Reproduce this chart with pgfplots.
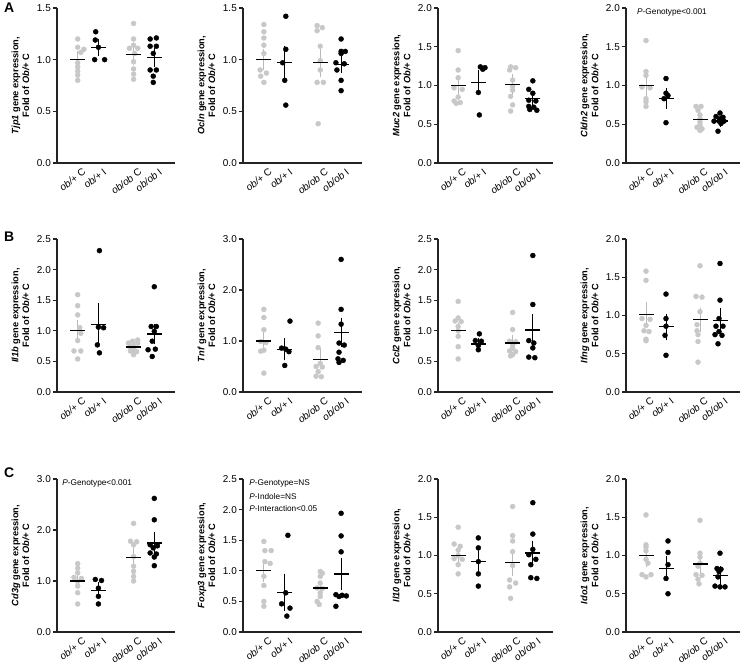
\documentclass[border=0pt]{standalone}
\usepackage{pgfplots}
\pgfplotsset{compat=1.18}
\usepackage{fontspec}
\setmainfont{Liberation Sans}
\definecolor{dotgray}{RGB}{200,200,200}
\definecolor{errgray}{RGB}{185,185,185}
\definecolor{axcol}{RGB}{35,35,35}
\pgfplotsset{
 panel/.style={
  scale only axis,
  axis x line*=bottom, axis y line*=left,
  axis line style={-, line width=1.1bp, draw=axcol},
  xmin=0, xmax=5.7, ymin=0,
  xtick={1,2,3.7,4.7},
  xticklabels={\textit{ob/+}~C, \textit{ob/+}~I, \textit{ob/ob}~C, \textit{ob/ob}~I},
  xtick style={draw=none},
  ytick style={line width=1.1bp, draw=axcol},
  tick align=outside, major tick length=4bp,
  ticklabel style={font=\fontsize{10}{11}\selectfont},
  xticklabel style={rotate=38, anchor=north east, inner sep=1bp, yshift=-2bp, xshift=4bp},
  yticklabel style={inner sep=2bp},
  ylabel style={align=center, font=\fontsize{9.3}{11}\selectfont\bfseries},
  ylabel shift=2bp,
  clip=false,
 },
 gdot/.style={only marks, mark=*, mark size=2.5bp, color=dotgray, mark options={solid}},
 bdot/.style={only marks, mark=*, mark size=2.5bp, color=black, mark options={solid}},
 gmean/.style={only marks, mark=-, mark size=7.5bp, mark options={draw=black, line width=1.4bp},
   error bars/.cd, y dir=both, y explicit, error bar style={draw=errgray, line width=0.9bp},
   error mark options={draw=errgray, mark size=3.5bp, line width=0.9bp}},
 bmean/.style={only marks, mark=-, mark size=7.5bp, mark options={draw=black, line width=1.4bp},
   error bars/.cd, y dir=both, y explicit, error bar style={draw=black, line width=0.9bp},
   error mark options={draw=black, mark size=3.5bp, line width=0.9bp}},
 r15/.style={ymax=1.5, ytick={0,0.5,1,1.5}, yticklabels={0.0,0.5,1.0,1.5}},
 r20/.style={ymax=2.0, ytick={0,0.5,1,1.5,2}, yticklabels={0.0,0.5,1.0,1.5,2.0}},
 r25/.style={ymax=2.5, ytick={0,0.5,1,1.5,2,2.5}, yticklabels={0.0,0.5,1.0,1.5,2.0,2.5}},
 r30/.style={ymax=3.0, ytick={0,1,2,3}, yticklabels={0.0,1.0,2.0,3.0}},
}
\newcommand{\ptext}{\fontsize{8.3}{9}\selectfont}
\begin{document}
\begin{tikzpicture}
\useasboundingbox (0,0) rectangle (745bp,668bp);

% ---------------- Row A ----------------
\begin{axis}[panel, r15, at={(57bp,505bp)}, anchor=south west, width=118bp, height=155bp,
  ylabel={\textit{Tjp1} gene expression,\\Fold of \textit{Ob/+} C}]
\addplot[gdot] coordinates {(1,1.20) (1,1.12) (1.3,1.10) (1.15,1.07) (1,0.97) (1,0.93) (1,0.89) (1,0.85) (1,0.80)};
\addplot[bdot] coordinates {(1.87,1.27) (1.85,1.19) (2.0,1.12) (1.82,1.00) (2.3,1.00)};
\addplot[gdot] coordinates {(3.7,1.35) (3.7,1.20) (3.7,1.14) (3.5,1.11) (3.9,1.11) (3.75,1.06) (3.7,0.98) (3.7,0.91) (3.7,0.86) (3.7,0.81)};
\addplot[bdot] coordinates {(4.5,1.20) (4.8,1.21) (4.5,1.13) (4.8,1.13) (4.65,1.06) (4.5,0.90) (4.8,0.90) (4.65,0.84) (4.65,0.78)};
\addplot[gmean] coordinates {(1,1.00) +- (0,0.05) (3.7,1.05) +- (0,0.065)};
\addplot[bmean] coordinates {(2,1.12) +- (0,0.05) (4.7,1.02) +- (0,0.055)};
\end{axis}

\begin{axis}[panel, r15, at={(243bp,505bp)}, anchor=south west, width=119bp, height=155bp,
  ylabel={\textit{Ocln} gene expression,\\Fold of \textit{Ob/+} C}]
\addplot[gdot] coordinates {(1,1.34) (1,1.27) (1,1.21) (1,1.14) (1,1.06) (0.82,0.90) (1.12,0.87) (0.85,0.84) (1,0.78)};
\addplot[bdot] coordinates {(2.05,1.42) (2.05,1.10) (1.9,0.97) (2.0,0.80) (2.05,0.56)};
\addplot[gdot] coordinates {(3.55,1.33) (3.8,1.31) (3.55,1.28) (3.7,1.13) (3.7,0.99) (3.7,0.90) (3.55,0.78) (3.85,0.78) (3.6,0.38)};
\addplot[bdot] coordinates {(4.7,1.20) (4.7,1.08) (4.9,1.08) (4.7,1.06) (4.45,0.97) (4.85,0.96) (4.5,0.90) (4.7,0.80) (4.7,0.70)};
\addplot[gmean] coordinates {(1,1.00) +- (0,0.07) (3.7,0.97) +- (0,0.10)};
\addplot[bmean] coordinates {(2,0.97) +- (0,0.13) (4.7,0.955) +- (0,0.05)};
\end{axis}

\begin{axis}[panel, r20, at={(438bp,505bp)}, anchor=south west, width=115bp, height=155bp,
  ylabel={\textit{Muc2} gene expression,\\Fold of \textit{Ob/+} C}]
\addplot[gdot] coordinates {(1,1.45) (1,1.20) (1,1.10) (0.8,0.97) (1.2,0.95) (1,0.85) (0.8,0.80) (1.1,0.78) (0.9,0.77)};
\addplot[bdot] coordinates {(2.1,1.24) (2.33,1.23) (2.22,1.21) (2.0,0.91) (2.05,0.62)};
\addplot[gdot] coordinates {(3.6,1.24) (3.85,1.23) (3.55,1.20) (3.7,1.07) (3.7,0.99) (3.7,0.94) (3.6,0.86) (3.7,0.75) (3.6,0.67)};
\addplot[bdot] coordinates {(4.7,1.06) (4.5,0.95) (4.7,0.90) (4.5,0.81) (4.85,0.80) (4.5,0.73) (4.75,0.72) (4.55,0.69) (4.9,0.68)};
\addplot[gmean] coordinates {(1,1.00) +- (0,0.09) (3.7,1.01) +- (0,0.09)};
\addplot[bmean] coordinates {(2,1.04) +- (0,0.12) (4.7,0.83) +- (0,0.055)};
\end{axis}

\begin{axis}[panel, r20, at={(626bp,505bp)}, anchor=south west, width=114bp, height=155bp,
  ylabel={\textit{Cldn2} gene expression,\\Fold of \textit{Ob/+} C}]
\addplot[gdot] coordinates {(1,1.58) (1,1.18) (1,1.13) (0.8,0.98) (1.2,0.97) (1,0.83) (1,0.79) (1,0.73)};
\addplot[bdot] coordinates {(2.0,1.09) (2.0,0.90) (2.1,0.87) (1.9,0.83) (2.0,0.52)};
\addplot[gdot] coordinates {(3.5,0.73) (3.75,0.73) (3.6,0.68) (3.7,0.62) (3.7,0.57) (3.7,0.53) (3.7,0.49) (3.55,0.46) (3.8,0.44) (3.7,0.42)};
\addplot[bdot] coordinates {(4.7,0.645) (4.5,0.60) (4.85,0.59) (4.7,0.57) (4.4,0.54) (4.65,0.54) (4.9,0.54) (4.75,0.51) (4.6,0.41)};
\addplot[gmean] coordinates {(1,1.00) +- (0,0.086) (3.7,0.563) +- (0,0.035)};
\addplot[bmean] coordinates {(2,0.83) +- (0,0.087) (4.7,0.54) +- (0,0.025)};
\node[anchor=west, inner sep=0, font=\ptext] at (axis cs:0.55,1.94) {\textit{P}-Genotype\textless0.001};
\end{axis}

% ---------------- Row B ----------------
\begin{axis}[panel, r25, at={(57bp,276bp)}, anchor=south west, width=118bp, height=153bp,
  ylabel={\textit{Il1b} gene expression,\\Fold of \textit{Ob/+} C}]
\addplot[gdot] coordinates {(1,1.59) (1,1.41) (1,1.26) (1.1,1.05) (1.15,0.96) (1,0.84) (0.82,0.67) (1.15,0.67) (1,0.54)};
\addplot[bdot] coordinates {(2.05,2.31) (2.0,1.06) (2.25,1.05) (1.95,0.77) (2.05,0.64)};
\addplot[gdot] coordinates {(3.9,0.85) (3.65,0.83) (3.45,0.80) (3.9,0.80) (3.7,0.76) (3.55,0.74) (3.7,0.72) (3.55,0.67) (3.85,0.66) (3.7,0.61)};
\addplot[bdot] coordinates {(4.7,1.72) (4.55,1.07) (4.8,1.07) (4.7,0.99) (4.6,0.83) (4.4,0.69) (4.75,0.70) (4.6,0.58)};
\addplot[gmean] coordinates {(1,1.00) +- (0,0.12) (3.7,0.734) +- (0,0.03)};
\addplot[bmean] coordinates {(2,1.10) +- (0,0.305) (4.7,0.946) +- (0,0.11)};
\end{axis}

\begin{axis}[panel, r30, at={(243bp,276bp)}, anchor=south west, width=119bp, height=153bp,
  ylabel={\textit{Tnf} gene expression,\\Fold of \textit{Ob/+} C}]
\addplot[gdot] coordinates {(1,1.62) (1,1.46) (1,1.22) (0.85,0.99) (1.1,0.97) (1,0.82) (0.85,0.80) (1,0.37)};
\addplot[bdot] coordinates {(2.25,1.39) (1.85,0.86) (2.05,0.84) (2.2,0.79) (2.0,0.52)};
\addplot[gdot] coordinates {(3.6,1.35) (3.6,1.10) (3.6,0.87) (3.7,0.56) (3.5,0.50) (3.8,0.49) (3.6,0.40) (3.5,0.31) (3.75,0.30)};
\addplot[bdot] coordinates {(4.7,2.60) (4.7,1.62) (4.7,1.33) (4.6,0.96) (4.85,0.92) (4.6,0.78) (4.55,0.65) (4.8,0.62) (4.6,0.58)};
\addplot[gmean] coordinates {(1,1.00) +- (0,0.15) (3.7,0.64) +- (0,0.13)};
\addplot[bmean] coordinates {(2,0.837) +- (0,0.147) (4.7,1.17) +- (0,0.22)};
\end{axis}

\begin{axis}[panel, r25, at={(438bp,276bp)}, anchor=south west, width=115bp, height=153bp,
  ylabel={\textit{Ccl2} gene expression,\\Fold of \textit{Ob/+} C}]
\addplot[gdot] coordinates {(1,1.48) (1,1.21) (0.85,1.16) (1.15,1.15) (1,1.07) (1,1.00) (1,0.91) (1,0.74) (1,0.54)};
\addplot[bdot] coordinates {(2.05,0.95) (1.85,0.84) (2.15,0.83) (2.0,0.76) (2.0,0.69)};
\addplot[gdot] coordinates {(3.7,1.30) (3.7,1.02) (3.55,0.83) (3.85,0.82) (3.7,0.77) (3.7,0.72) (3.55,0.67) (3.85,0.66) (3.7,0.61) (3.6,0.59)};
\addplot[bdot] coordinates {(4.7,2.23) (4.7,1.43) (4.75,0.80) (4.5,0.84) (4.7,0.72) (4.5,0.57) (4.8,0.56)};
\addplot[gmean] coordinates {(1,1.00) +- (0,0.07) (3.7,0.80) +- (0,0.07)};
\addplot[bmean] coordinates {(2,0.783) +- (0,0.045) (4.7,1.016) +- (0,0.20)};
\end{axis}

\begin{axis}[panel, r20, at={(626bp,276bp)}, anchor=south west, width=114bp, height=153bp,
  ylabel={\textit{Ifng} gene expression,\\Fold of \textit{Ob/+} C}]
\addplot[gdot] coordinates {(1,1.58) (1,1.46) (0.8,0.96) (1.2,0.95) (1,0.87) (0.9,0.80) (1.15,0.79) (1,0.69) (1,0.67)};
\addplot[bdot] coordinates {(2.0,1.28) (2.0,0.96) (2.0,0.86) (1.95,0.74) (2.0,0.48)};
\addplot[gdot] coordinates {(3.7,1.65) (3.5,1.25) (3.8,1.24) (3.7,1.05) (3.55,0.88) (3.55,0.80) (3.6,0.75) (3.6,0.66) (3.6,0.39)};
\addplot[bdot] coordinates {(4.7,1.68) (4.7,1.20) (4.65,0.96) (4.5,0.86) (4.85,0.86) (4.65,0.79) (4.45,0.75) (4.8,0.74) (4.6,0.63)};
\addplot[gmean] coordinates {(1,1.01) +- (0,0.115) (3.7,0.946) +- (0,0.11)};
\addplot[bmean] coordinates {(2,0.855) +- (0,0.125) (4.7,0.937) +- (0,0.12)};
\end{axis}

% ---------------- Row C ----------------
\begin{axis}[panel, r30, at={(57bp,36bp)}, anchor=south west, width=118bp, height=153bp,
  ylabel={\textit{Cd3g} gene expression,\\Fold of \textit{Ob/+} C}]
\addplot[gdot] coordinates {(1,1.34) (1,1.25) (1,1.16) (0.82,1.07) (1.18,1.05) (1,0.99) (1,0.90) (1,0.77) (1,0.55)};
\addplot[bdot] coordinates {(1.85,1.03) (2.15,1.01) (2.0,0.86) (2.0,0.70) (2.0,0.55)};
\addplot[gdot] coordinates {(3.7,2.13) (3.55,1.78) (3.85,1.77) (3.7,1.71) (3.7,1.48) (3.7,1.29) (3.7,1.19) (3.7,1.09) (3.7,1.00)};
\addplot[bdot] coordinates {(4.7,2.62) (4.7,2.20) (4.5,1.71) (4.85,1.69) (4.65,1.65) (4.5,1.55) (4.8,1.53) (4.7,1.47) (4.7,1.30)};
\addplot[gmean] coordinates {(1,1.00) +- (0,0.06) (3.7,1.464) +- (0,0.13)};
\addplot[bmean] coordinates {(2,0.817) +- (0,0.09) (4.7,1.745) +- (0,0.15)};
\node[anchor=west, inner sep=0, font=\ptext] at (axis cs:0.25,2.92) {\textit{P}-Genotype\textless0.001};
\end{axis}

\begin{axis}[panel, r25, at={(243bp,36bp)}, anchor=south west, width=119bp, height=153bp,
  ylabel={\textit{Foxp3} gene expression,\\Fold of \textit{Ob/+} C}]
\addplot[gdot] coordinates {(1,1.48) (1.05,1.33) (1.35,1.33) (1.05,1.15) (1.3,1.12) (1,0.91) (1,0.76) (1,0.50) (1,0.42)};
\addplot[bdot] coordinates {(2.15,1.58) (2.05,0.64) (1.85,0.46) (2.25,0.39) (2.1,0.26)};
\addplot[gdot] coordinates {(3.7,0.99) (3.8,0.96) (3.7,0.91) (3.7,0.80) (3.55,0.72) (3.8,0.71) (3.7,0.64) (3.7,0.58) (3.55,0.50) (3.65,0.45)};
\addplot[bdot] coordinates {(4.7,1.94) (4.7,1.57) (4.7,1.31) (4.45,0.61) (4.75,0.60) (4.95,0.59) (4.6,0.58) (4.45,0.42)};
\addplot[gmean] coordinates {(1,1.00) +- (0,0.125) (3.7,0.719) +- (0,0.055)};
\addplot[bmean] coordinates {(2,0.648) +- (0,0.245) (4.7,0.948) +- (0,0.205)};
\node[anchor=west, inner sep=0, font=\ptext] at (axis cs:0.3,2.43) {\textit{P}-Genotype=NS};
\node[anchor=west, inner sep=0, font=\ptext] at (axis cs:0.3,2.21) {\textit{P}-Indole=NS};
\node[anchor=west, inner sep=0, font=\ptext] at (axis cs:0.3,2.01) {\textit{P}-Interaction\textless0.05};
\end{axis}

\begin{axis}[panel, r20, at={(438bp,36bp)}, anchor=south west, width=115bp, height=153bp,
  ylabel={\textit{Il10} gene expression,\\Fold of \textit{Ob/+} C}]
\addplot[gdot] coordinates {(1,1.37) (0.8,1.15) (1.1,1.12) (1,1.07) (1,1.00) (0.8,0.96) (1.2,0.95) (1,0.88) (1,0.76)};
\addplot[bdot] coordinates {(2.0,1.23) (2.0,1.10) (2.0,0.92) (2.0,0.76) (2.0,0.60)};
\addplot[gdot] coordinates {(3.7,1.64) (3.7,1.26) (3.7,1.19) (3.7,1.05) (3.7,0.87) (3.55,0.68) (3.85,0.64) (3.55,0.59) (3.6,0.44)};
\addplot[bdot] coordinates {(4.7,1.69) (4.7,1.28) (4.7,1.08) (4.5,1.01) (4.85,0.95) (4.6,0.88) (4.6,0.71) (4.9,0.70)};
\addplot[gmean] coordinates {(1,1.00) +- (0,0.065) (3.7,0.91) +- (0,0.135)};
\addplot[bmean] coordinates {(2,0.924) +- (0,0.115) (4.7,1.033) +- (0,0.115)};
\end{axis}

\begin{axis}[panel, r20, at={(626bp,36bp)}, anchor=south west, width=114bp, height=153bp,
  ylabel={\textit{Ido1} gene expression,\\Fold of \textit{Ob/+} C}]
\addplot[gdot] coordinates {(1,1.53) (1,1.14) (1,1.11) (1,1.06) (1,0.95) (1.1,0.90) (0.8,0.75) (1.25,0.75) (1,0.72)};
\addplot[bdot] coordinates {(2.1,1.19) (2.1,1.04) (2.1,0.88) (2.0,0.70) (2.1,0.50)};
\addplot[gdot] coordinates {(3.7,1.46) (3.7,1.03) (3.7,0.98) (3.7,0.90) (3.6,0.86) (3.5,0.75) (3.8,0.74) (3.6,0.69) (3.65,0.63)};
\addplot[bdot] coordinates {(4.7,1.03) (4.55,0.83) (4.75,0.82) (4.65,0.79) (4.6,0.72) (4.45,0.60) (4.7,0.59) (4.95,0.59)};
\addplot[gmean] coordinates {(1,1.00) +- (0,0.10) (3.7,0.889) +- (0,0.088)};
\addplot[bmean] coordinates {(2,0.833) +- (0,0.12) (4.7,0.737) +- (0,0.075)};
\end{axis}

% panel letters
\node[anchor=north west, inner sep=0, font=\fontsize{14}{14}\selectfont\bfseries] at (4bp,665bp) {A};
\node[anchor=north west, inner sep=0, font=\fontsize{14}{14}\selectfont\bfseries] at (4bp,436bp) {B};
\node[anchor=north west, inner sep=0, font=\fontsize{14}{14}\selectfont\bfseries] at (4bp,200bp) {C};
\end{tikzpicture}
\end{document}
